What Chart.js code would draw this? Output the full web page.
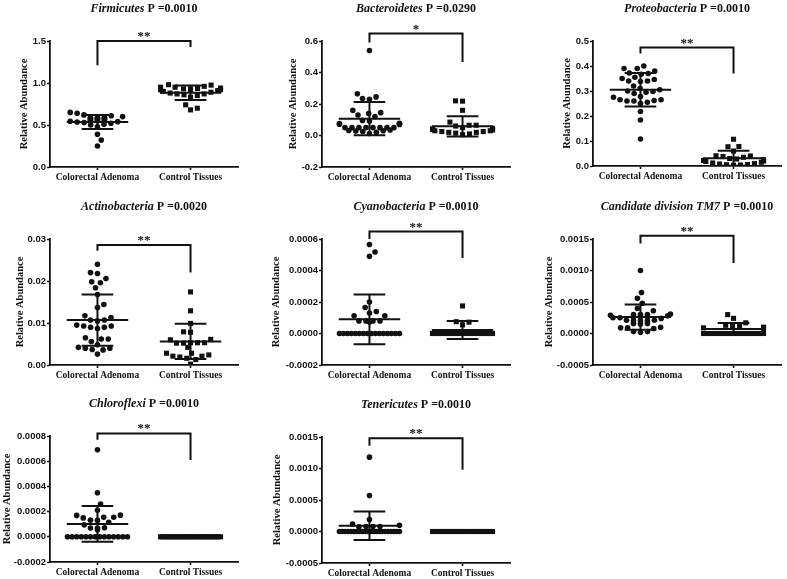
<!DOCTYPE html>
<html lang="en">
<head>
  <meta charset="UTF-8">
  <title>Relative abundance, colorectal adenoma vs control tissues</title>
  <script src="https://cdn.jsdelivr.net/npm/chart.js"></script>
  <style>
    html, body { margin: 0; padding: 0; background: #fff; overflow: hidden; }
    #figure { position: relative; width: 787px; height: 579px; overflow: hidden; }
    #figure canvas { position: absolute; }
  </style>
</head>
<body>
  <div id="figure"></div>

  <script>
    // ---- data ----
    const categories = ['Colorectal Adenoma', 'Control Tissues'];
    const taxa = ['Firmicutes', 'Bacteroidetes', 'Proteobacteria', 'Actinobacteria',
                  'Cyanobacteria', 'Candidate division TM7', 'Chloroflexi', 'Tenericutes'];
    const pValues = ['0.0010', '0.0290', '0.0010', '0.0020', '0.0010', '0.0010', '0.0010', '0.0010'];
    const stars = ['**', '*', '**', '**', '**', '**', '**', '**'];

    const firmicutesAdenoma = [0.65, 0.64, 0.62, 0.61, 0.60, 0.59, 0.59, 0.59, 0.585, 0.58, 0.58, 0.575, 0.57, 0.57, 0.565, 0.56,
                               0.56, 0.555, 0.55, 0.55, 0.545, 0.54, 0.535, 0.53, 0.52, 0.51, 0.50, 0.48, 0.39, 0.32, 0.25];
    const firmicutesControl = [0.98, 0.975, 0.96, 0.95, 0.95, 0.94, 0.935, 0.93, 0.93, 0.92, 0.92, 0.915, 0.91, 0.90, 0.89,
                               0.88, 0.87, 0.87, 0.86, 0.85, 0.83, 0.74, 0.70, 0.68];
    const bacteroidetesAdenoma = [0.54, 0.265, 0.245, 0.235, 0.23, 0.16, 0.145, 0.14, 0.13, 0.12, 0.096, 0.092, 0.078, 0.076,
                                  0.074, 0.072, 0.07, 0.05, 0.05, 0.05, 0.05, 0.05, 0.05, 0.05, 0.05, 0.035, 0.032, 0.03,
                                  0.028, 0.025, 0.02, 0.012];
    const bacteroidetesControl = [0.22, 0.218, 0.16, 0.085, 0.065, 0.065, 0.06, 0.05, 0.045, 0.042, 0.04, 0.038, 0.035, 0.03,
                                  0.03, 0.025, 0.025, 0.02, 0.02, 0.015, 0.01, 0.005];
    const proteobacteriaAdenoma = [0.40, 0.39, 0.39, 0.38, 0.372, 0.37, 0.367, 0.355, 0.35, 0.346, 0.34, 0.34, 0.338, 0.32,
                                   0.31, 0.305, 0.30, 0.298, 0.295, 0.29, 0.278, 0.275, 0.265, 0.265, 0.262, 0.26, 0.26,
                                   0.255, 0.25, 0.218, 0.184, 0.108];
    const proteobacteriaControl = [0.107, 0.078, 0.077, 0.06, 0.041, 0.04, 0.038, 0.035, 0.03, 0.028, 0.025, 0.022, 0.02,
                                   0.018, 0.015, 0.012, 0.01, 0.008, 0.006, 0.005, 0.004, 0.003];
    const actinobacteriaAdenoma = [0.024, 0.022, 0.0218, 0.0206, 0.0198, 0.0196, 0.0184, 0.0168, 0.0144, 0.0137, 0.0117,
                                   0.0113, 0.0107, 0.0107, 0.0105, 0.0095, 0.0093, 0.0093, 0.009, 0.009, 0.0087, 0.0065,
                                   0.0062, 0.0062, 0.0056, 0.0048, 0.0042, 0.004, 0.004, 0.0037, 0.0036, 0.0026];
    const actinobacteriaControl = [0.0174, 0.0129, 0.0099, 0.0079, 0.0078, 0.0061, 0.006, 0.0053, 0.0053, 0.0053, 0.0052,
                                   0.0052, 0.0042, 0.0028, 0.0028, 0.0024, 0.0021, 0.0021, 0.0019, 0.0016, 0.0013, 0.0002];
    const cyanobacteriaAdenoma = [0.000565, 0.000517, 0.00049, 0.0002, 0.000165, 0.00014, 0.00013, 0.000112, 0.000112,
                                  0.00008, 0.00008, 0.00008, 0.00008, 0.000073,
                                  0, 0, 0, 0, 0, 0, 0, 0, 0, 0, 0, 0, 0, 0, 0, 0];
    const cyanobacteriaControl = [0.000175, 0.000075, 0.000072, 0.000055,
                                  0, 0, 0, 0, 0, 0, 0, 0, 0, 0, 0, 0, 0, 0, 0, 0, 0, 0, 0, 0, 0];
    const tm7Adenoma = [0.001, 0.00065, 0.00056, 0.00048, 0.0004, 0.00036, 0.00031, 0.0003, 0.0003, 0.00029, 0.0003,
                        0.00028, 0.00026, 0.00026, 0.00025, 0.00025, 0.00024, 0.00026, 0.00021, 0.0002, 0.0002, 0.00021,
                        0.0002, 0.00016, 0.00015, 0.00016, 0.00009, 0.00008, 0.0001, 0.00009, 0.00003, 0.00002, 0.00003];
    const tm7Control = [0.0003, 0.00024, 0.00017, 0.00013, 0.00012, 0.00011, 0.0001, 0.00009, 0.00008,
                        0, 0, 0, 0, 0, 0, 0, 0, 0, 0, 0, 0, 0, 0, 0, 0, 0];
    const chloroflexiAdenoma = [0.00069, 0.00035, 0.00026, 0.00021, 0.000172, 0.00017, 0.000155, 0.000155, 0.00015,
                                0.000132, 0.00013, 0.000116, 0.000095, 0.000072, 0.00007, 0.00007, 0.000055,
                                0, 0, 0, 0, 0, 0, 0, 0, 0, 0, 0, 0, 0, 0];
    const chloroflexiControl = [0, 0, 0, 0, 0, 0, 0, 0, 0, 0, 0, 0, 0, 0, 0, 0, 0, 0, 0, 0, 0, 0, 0, 0, 0, 0, 0, 0];
    const tenericutesAdenoma = [0.00118, 0.00057, 0.00019, 0.00012, 0.0001, 0.00008, 0.00008, 0.000078, 0.000075,
                                0, 0, 0, 0, 0, 0, 0, 0, 0, 0, 0, 0, 0, 0, 0, 0, 0, 0, 0, 0, 0, 0];
    const tenericutesControl = [0, 0, 0, 0, 0, 0, 0, 0, 0, 0, 0, 0, 0, 0, 0, 0, 0, 0, 0, 0, 0, 0, 0, 0, 0, 0, 0, 0];

    // mean and SD bars as drawn in the figure
    const meanAdenoma = [0.536, 0.107, 0.305, 0.0107, 0.00009, 0.00026, 0.000102, 0.00009];
    const sdAdenoma = [0.084, 0.106, 0.067, 0.0061, 0.000158, 0.0002, 0.000142, 0.000226];
    const meanControl = [0.885, 0.058, 0.031, 0.0056, 0.000022, 0.00007, 0, 0];
    const sdControl = [0.086, 0.064, 0.03, 0.0042, 0.000057, 0.000095, 0, 0];

    // significance bracket levels
    const bracketTop = [1.5, 0.647, 0.474, 0.0286, 0.000647, 0.00155, 0.00082, 0.00148];
    const bracketAdenomaEnd = [1.21, 0.59, 0.45, 0.0272, 0.0006, 0.00143, 0.00077, 0.00136];
    const bracketControlEnd = [1.43, 0.467, 0.37, 0.022, 0.00048, 0.00112, 0.00061, 0.00098];

    // y axis ticks
    const yMin = [0, -0.2, 0, 0, -0.0002, -0.0005, -0.0002, -0.0005];
    const yMax = [1.5, 0.6, 0.5, 0.03, 0.0006, 0.0015, 0.0008, 0.0015];
    const yStep = [0.5, 0.2, 0.1, 0.01, 0.0002, 0.0005, 0.0002, 0.0005];
    const yDecimals = [1, 1, 1, 2, 4, 4, 4, 4];

    const adenomaSeries = [firmicutesAdenoma, bacteroidetesAdenoma, proteobacteriaAdenoma, actinobacteriaAdenoma,
                           cyanobacteriaAdenoma, tm7Adenoma, chloroflexiAdenoma, tenericutesAdenoma];
    const controlSeries = [firmicutesControl, bacteroidetesControl, proteobacteriaControl, actinobacteriaControl,
                           cyanobacteriaControl, tm7Control, chloroflexiControl, tenericutesControl];

    // ---- page layout: plot area of each panel and x of its y title ----
    const layout = [
      { left: 50, top: 41, right: 240, bottom: 167, titleX: 24 },
      { left: 322, top: 41, right: 512, bottom: 167, titleX: 293 },
      { left: 593, top: 41, right: 783, bottom: 166, titleX: 567 },
      { left: 50, top: 239, right: 240, bottom: 365, titleX: 20 },
      { left: 322, top: 239, right: 512, bottom: 365, titleX: 276 },
      { left: 593, top: 239, right: 783, bottom: 365, titleX: 549 },
      { left: 50, top: 436, right: 240, bottom: 562, titleX: 7 },
      { left: 322, top: 437, right: 512, bottom: 563, titleX: 277 }
    ];

    const INK = '#111';
    const MEAN_HALF = 0.33;
    const WHISKER_HALF = 0.17;

    // mean line + SD whiskers as broken line segments
    function errorBars(i) {
      const pts = [];
      [[1, meanAdenoma[i], sdAdenoma[i]], [2, meanControl[i], sdControl[i]]].forEach(([c, m, s]) => {
        pts.push({ x: c - MEAN_HALF, y: m }, { x: c + MEAN_HALF, y: m }, { x: c, y: null });
        if (s > 0) {
          pts.push({ x: c, y: m - s }, { x: c, y: m + s }, { x: c, y: null });
          pts.push({ x: c - WHISKER_HALF, y: m + s }, { x: c + WHISKER_HALF, y: m + s }, { x: c, y: null });
          pts.push({ x: c - WHISKER_HALF, y: m - s }, { x: c + WHISKER_HALF, y: m - s }, { x: c, y: null });
        }
      });
      return pts;
    }

    function bracket(i) {
      return [
        { x: 1, y: bracketAdenomaEnd[i] }, { x: 1, y: bracketTop[i] },
        { x: 2, y: bracketTop[i] }, { x: 2, y: bracketControlEnd[i] }
      ];
    }

    // Prism-like column scatter: lowest values first, each point pushed to the nearest free spot,
    // exact ties laid out as one row squeezed into the column width
    function swarm(values, yScale, d, cap) {
      const pts = values.map((v, k) => ({ k, py: yScale.getPixelForValue(v) })).sort((a, b) => b.py - a.py);
      const out = new Array(values.length);
      const placed = [];
      let flip = 1;
      for (let s = 0; s < pts.length;) {
        let e = s;
        while (e + 1 < pts.length && Math.abs(pts[e + 1].py - pts[s].py) < 0.5) e++;
        const n = e - s + 1;
        if (n >= 3) {
          const gap = Math.min(d, (2 * cap) / (n - 1));
          for (let m = 0; m < n; m++) {
            const dx = (m - (n - 1) / 2) * gap;
            out[pts[s + m].k] = dx;
            placed.push({ dx, py: pts[s + m].py });
          }
        } else {
          for (let m = s; m <= e; m++) {
            const py = pts[m].py;
            const near = placed.filter(p => Math.abs(p.py - py) < d);
            const cands = [0];
            near.forEach(p => {
              const w = Math.sqrt(d * d - (p.py - py) ** 2);
              cands.push(p.dx + w, p.dx - w);
            });
            let best = null;
            cands.forEach(c => {
              const ok = near.every(p => Math.abs(c - p.dx) >= Math.sqrt(d * d - (p.py - py) ** 2) - 1e-6);
              if (!ok) return;
              if (best === null || Math.abs(c) < Math.abs(best) - 1e-6 ||
                  (Math.abs(Math.abs(c) - Math.abs(best)) <= 1e-6 && Math.sign(c) === flip)) best = c;
            });
            if (best === null) best = 0;
            if (Math.abs(best) > 1e-6) flip = -flip;
            best = Math.max(-cap, Math.min(cap, best));
            out[pts[m].k] = best;
            placed.push({ dx: best, py });
          }
        }
        s = e + 1;
      }
      return out;
    }

    // panel title (italic taxon + plain p value) and the significance stars
    const panelText = {
      id: 'panelText',
      afterDraw(chart, args, opts) {
        const i = opts.index;
        const { ctx, chartArea } = chart;
        const x = chart.scales.x, y = chart.scales.y;
        ctx.save();
        ctx.fillStyle = INK;
        ctx.textBaseline = 'middle';
        ctx.textAlign = 'left';
        const italic = 'italic bold 12px "Liberation Serif"';
        const plain = 'bold 12px "Liberation Serif"';
        const rest = ' P =' + pValues[i];
        ctx.font = italic;
        const w1 = ctx.measureText(taxa[i]).width;
        ctx.font = plain;
        const w2 = ctx.measureText(rest).width;
        const x0 = (chartArea.left + chartArea.right) / 2 - (w1 + w2) / 2;
        const ty = chartArea.top - 32;
        ctx.font = italic;
        ctx.fillText(taxa[i], x0, ty);
        ctx.font = plain;
        ctx.fillText(rest, x0 + w1, ty);

        ctx.font = 'bold 13px "Liberation Serif"';
        ctx.textAlign = 'center';
        ctx.textBaseline = 'alphabetic';
        const sx = (x.getPixelForValue(1) + x.getPixelForValue(2)) / 2;
        ctx.fillText(stars[i], sx, y.getPixelForValue(bracketTop[i]) - 1);
        ctx.restore();
      }
    };

    const fig = document.getElementById('figure');

    function makePanel(i) {
      const box = layout[i];
      const cLeft = Math.round(box.titleX - 6);
      const cTop = box.top - 45;
      const w = box.right - cLeft + 2;
      const h = box.bottom - box.top + 45 + 30;
      const canvas = document.createElement('canvas');
      canvas.width = w;
      canvas.height = h;
      canvas.style.left = cLeft + 'px';
      canvas.style.top = cTop + 'px';
      canvas.style.width = w + 'px';
      canvas.style.height = h + 'px';
      fig.appendChild(canvas);

      const axisGrid = { drawOnChartArea: false, drawTicks: true, tickLength: 3, tickColor: INK, tickWidth: 1.6 };
      const axisBorder = { display: true, color: INK, width: 1.8 };

      const chart = new Chart(canvas, {
        type: 'scatter',
        data: {
          datasets: [
            {
              data: errorBars(i), showLine: true, spanGaps: false, pointRadius: 0,
              borderColor: INK, borderWidth: 2, order: 0
            },
            {
              data: bracket(i), showLine: true, pointRadius: 0,
              borderColor: INK, borderWidth: 2, clip: false, order: 0
            },
            {
              data: adenomaSeries[i].map(v => ({ x: 1, y: v })),
              pointStyle: 'circle', pointRadius: 2.8, backgroundColor: INK, borderWidth: 0, order: 1
            },
            {
              data: controlSeries[i].map(v => ({ x: 2, y: v })),
              pointStyle: 'rect', pointRadius: 3.6, backgroundColor: INK, borderWidth: 0, order: 1
            }
          ]
        },
        options: {
          responsive: false,
          animation: false,
          events: [],
          devicePixelRatio: 1,
          layout: { padding: { top: 45, right: 2, bottom: 0, left: 0 } },
          plugins: {
            legend: { display: false },
            tooltip: { enabled: false },
            panelText: { index: i }
          },
          scales: {
            x: {
              type: 'linear', min: 0.49, max: 2.51,
              afterBuildTicks: s => { s.ticks = [{ value: 1 }, { value: 2 }]; },
              afterFit: s => { s.height = 30; },
              ticks: {
                callback: v => categories[v - 1] || '',
                font: { family: 'Liberation Serif', size: 9.5, weight: 'bold' },
                color: INK, padding: 2, maxRotation: 0, autoSkip: false
              },
              grid: axisGrid,
              border: axisBorder
            },
            y: {
              min: yMin[i], max: yMax[i],
              afterFit: s => { s.width = box.left - cLeft; },
              ticks: {
                stepSize: yStep[i],
                callback: v => (Math.abs(v) < yStep[i] / 1000 ? 0 : v).toFixed(yDecimals[i]),
                font: { family: 'Liberation Sans', size: 9.5, weight: 'bold' },
                color: INK, padding: 1
              },
              grid: axisGrid,
              border: axisBorder,
              title: {
                display: true, text: 'Relative Abundance', color: INK, padding: 0,
                font: { family: 'Liberation Serif', size: 10.5, weight: 'bold' }
              }
            }
          }
        },
        plugins: [panelText]
      });

      // spread the points sideways now that the scales are known
      const unit = chart.scales.x.getPixelForValue(2) - chart.scales.x.getPixelForValue(1);
      const offA = swarm(adenomaSeries[i], chart.scales.y, 7, 30);
      const offC = swarm(controlSeries[i], chart.scales.y, 7, 30);
      chart.data.datasets[2].data = adenomaSeries[i].map((v, k) => ({ x: 1 + offA[k] / unit, y: v }));
      chart.data.datasets[3].data = controlSeries[i].map((v, k) => ({ x: 2 + offC[k] / unit, y: v }));
      chart.update('none');
    }

    for (let i = 0; i < taxa.length; i++) makePanel(i);
  </script>
</body>
</html>
